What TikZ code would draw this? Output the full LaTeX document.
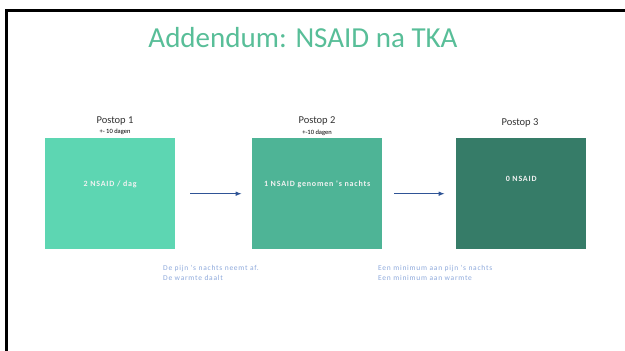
\documentclass[tikz,border=0pt]{standalone}
\usepackage{fontspec}
\setmainfont{Carlito}
\newfontfamily\trackedfont[LetterSpace=10]{Carlito}
\usepackage{xcolor}
\usetikzlibrary{positioning,arrows.meta}
\definecolor{titlegreen}{RGB}{88,190,152}
\definecolor{stepone}{RGB}{93,214,178}
\definecolor{steptwo}{RGB}{78,180,150}
\definecolor{stepthree}{RGB}{54,124,104}
\definecolor{flowblue}{RGB}{47,84,150}
\definecolor{notegrey}{RGB}{142,169,219}

\begin{document}
\begin{tikzpicture}[
		x=1pt,y=-1pt,
		phase/.style={anchor=north west,minimum width=130pt,minimum height=111pt,inner sep=0pt,draw=none},
		phase text/.style={font=\trackedfont\fontsize{8}{9}\selectfont\bfseries,text=white!95!black},
		phase head/.style={font=\fontsize{10.5}{12}\selectfont,text=black!80,inner sep=0pt},
		phase sub/.style={font=\fontsize{6.5}{8}\selectfont,text=black,inner sep=0pt},
		flow/.style={-{Latex[length=2.2mm,width=1.6mm]},line width=1.5pt,flowblue},
		note/.style={font=\trackedfont\fontsize{7.5}{10}\selectfont,text=notegrey,align=left,anchor=north west,inner sep=0pt}
	]
		\useasboundingbox (0,0) rectangle (625,351);

		% Slide frame, cut off at the right and at the bottom.
		\draw[line width=3pt] (6.5,360) -- (6.5,10.5) -- (640,10.5);

		% Title.
		\node[font=\fontsize{29}{32}\selectfont,text=titlegreen] (title) at (303,38) {Addendum: NSAID na TKA};

		% The three phases.
		\node[phase,fill=stepone] (b1) at (45,138) {};
		\node[phase,fill=steptwo] (b2) at (252,138) {};
		\node[phase,fill=stepthree] (b3) at (456,138) {};

		\node[phase text] (t1) at ([yshift=-46pt]b1.north) {2 NSAID / dag};
		\node[phase text] (t2) at ([yshift=-46pt]b2.north) {1 NSAID genomen 's nachts};
		\node[phase text] (t3) at ([yshift=-41pt]b3.north) {0 NSAID};

		\node[phase head] (h1) at (115,121) {Postop 1};
		\node[phase sub] (s1) at (115,132) {+- 10 dagen};
		\node[phase head] (h2) at (317,121) {Postop 2};
		\node[phase sub] (s2) at (317,132.5) {+-10 dagen};
		\node[phase head] (h3) at (520,123) {Postop 3};

		% Transitions between the phases.
		\draw[flow] ([xshift=15pt]b1.east) -- ([xshift=-10pt]b2.west);
		\draw[flow] ([xshift=12pt]b2.east) -- ([xshift=-11pt]b3.west);

		% Notes under the arrows.
		\node[note] (n1) at (163,265) {De pijn 's nachts neemt af.\\De warmte daalt};
		\node[note] (n2) at (378,265) {Een minimum aan pijn 's nachts\\Een minimum aan warmte};
	\end{tikzpicture}
\end{document}
